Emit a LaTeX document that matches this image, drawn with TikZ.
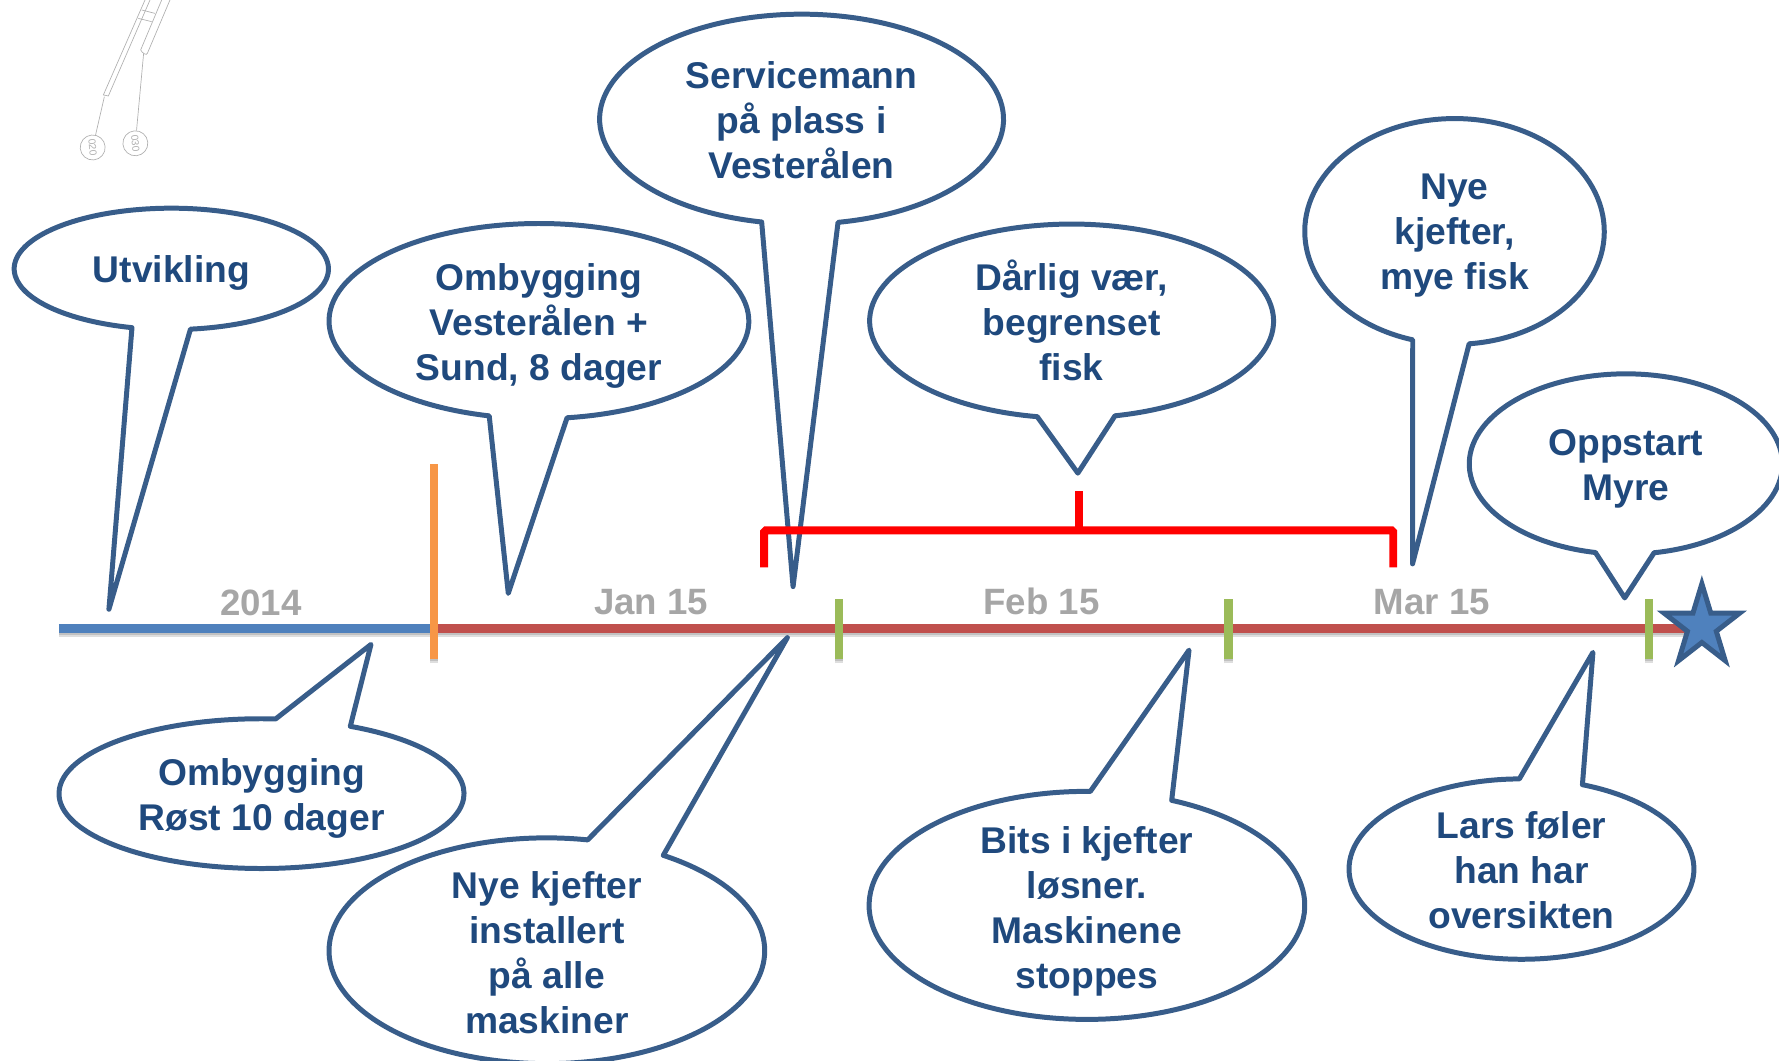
\documentclass[tikz,border=0pt]{standalone}
\usepackage{fontspec}
\setmainfont{Liberation Sans}
\usepackage{tikz}
\usetikzlibrary{calc}
\usetikzlibrary{shapes.geometric}
\definecolor{bubbleline}{HTML}{385D8A}
\definecolor{bubbletext}{HTML}{1F497D}
\definecolor{lineblue}{HTML}{4F81BD}
\definecolor{linered}{HTML}{C0504D}
\definecolor{lineorange}{HTML}{F79646}
\definecolor{linegreen}{HTML}{9BBB59}
\definecolor{sketchgray}{HTML}{B0B0B0}
\tikzset{
	bubblelabel/.style={inner sep=0pt,align=center,text=bubbletext,font=\fontsize{32.8}{39.7}\selectfont\bfseries},
	bubbleoutline/.style={draw=bubbleline,line width=4.4pt,line join=round},
	datelabel/.style={inner sep=0pt,text=black!35,font=\fontsize{32.3}{38}\selectfont\bfseries},
	barline/.style={line width=7.5pt},
	softshadow/.style={draw=black,line width=7.5pt,opacity=.13},
	sketchline/.style={draw=sketchgray,line width=.6pt},
	sketchmark/.style={circle,draw=sketchgray,line width=.6pt,inner sep=0pt,minimum size=22pt,text=sketchgray,font=\fontsize{9}{9}\selectfont}
}
% #1 centre, #2 #3 radii, #4 #5 arc angles, #6 tip
\newcommand{\speechbubble}[6]{\draw[bubbleoutline] ($(#1)+(#4:#2 and #3)$) arc[start angle=#4,end angle=#5,x radius=#2,y radius=#3] -- (#6) -- cycle;}
% #1 #2 ends of a bar
\newcommand{\barshadow}[2]{\draw[softshadow] ($(#1)+(0,-2)$) -- ($(#2)+(0,-2)$);\draw[softshadow] ($(#1)+(0,-3.5)$) -- ($(#2)+(0,-3.5)$);}
\begin{document}
\begin{tikzpicture}[x=1pt,y=1pt]
	\useasboundingbox (0,0) rectangle (1568,935);
	\clip (0,0) rectangle (1568,935);
	% drawing fragment, top left
	\node[sketchmark,rotate=-85] (mark020) at (81.7,805) {020};
	\node[sketchmark,rotate=-85] (mark030) at (119.3,808.7) {030};
	\coordinate (tip020) at (92,849.8);
	\coordinate (tip030) at (126.6,888);
	\draw[sketchline] (mark020) -- (tip020);
	\draw[sketchline] (mark030) -- (tip030);
	\draw[sketchline] (127.8,935) -- (91.1,851.3) -- (95.5,850.4) -- (132.2,935);
	\draw[sketchline] (142.5,935) -- (124,891) to[out=-70,in=-100] (129.9,888) -- (149.8,935);
	\draw[sketchline] (124.9,926.2) -- (136.6,923.2);
	\draw[sketchline] (121.9,918.8) -- (133.7,915.9);
	
	% time line
	\coordinate (LineStart) at (52,381);
	\coordinate (LineSplit) at (382,381);
	\coordinate (LineEnd)   at (1490,381);
	\coordinate (OrangeLow) at (382.5,354);
	\coordinate (OrangeTop) at (382.5,526);
	\coordinate (GreenLowA) at (739.5,354);
	\coordinate (GreenTopA) at (739.5,407);
	\coordinate (GreenLowB) at (1083,354);
	\coordinate (GreenTopB) at (1083,407);
	\coordinate (GreenLowC) at (1453.5,354);
	\coordinate (GreenTopC) at (1453.5,407);
	\barshadow{LineStart}{LineEnd}
	\draw[barline,draw=lineblue] (LineStart) -- (LineSplit);
	\draw[barline,draw=linered] (LineSplit) -- (LineEnd);
	\barshadow{OrangeLow}{OrangeTop}
	\barshadow{GreenLowA}{GreenTopA}
	\barshadow{GreenLowB}{GreenTopB}
	\barshadow{GreenLowC}{GreenTopC}
	\draw[barline,draw=lineorange] (OrangeLow) -- (OrangeTop);
	\draw[barline,draw=linegreen] (GreenLowA) -- (GreenTopA);
	\draw[barline,draw=linegreen] (GreenLowB) -- (GreenTopB);
	\draw[barline,draw=linegreen] (GreenLowC) -- (GreenTopC);
	\node[star,star points=5,star point ratio=2.618,minimum size=70pt,inner sep=0pt,yscale=1.07,fill=lineblue,draw=bubbleline,line width=4.4pt] (goal) at (1500,383) {};
	
	\node[datelabel] (year) at (230,404) {2014};
	\node[datelabel] (jan) at (574,404) {Jan 15};
	\node[datelabel] (feb) at (918,405) {Feb 15};
	\node[datelabel] (mar) at (1262,404) {Mar 15};
	
	% bubbles above
	\node[bubblelabel] (utvikling) at (151,694) {Utvikling};
	\node[bubblelabel] (vesteraalen) at (475,647.5) {Ombygging\\Vesterålen +\\Sund, 8 dager};
	\node[bubblelabel] (serviceman) at (706.5,829) {Servicemann\\på plass i\\Vesterålen};
	\node[bubblelabel] (vaer) at (944.5,652.5) {Dårlig vær,\\begrenset\\fisk};
	\node[bubblelabel] (nyefisk) at (1282,727) {Nye\\kjefter,\\mye fisk};
	\node[bubblelabel] (myre) at (1433,521.5) {Oppstart\\Myre};
	\coordinate (midUtvikling) at (151,698);
	\coordinate (midVesteraalen) at (475,652);
	\coordinate (midServiceman) at (706.5,830);
	\coordinate (midVaer) at (944.5,652);
	\coordinate (midNyefisk) at (1282,731);
	\coordinate (midMyre) at (1433,526);
	\coordinate (tipUtvikling) at (96,398);
	\coordinate (tipVesteraalen) at (448,412);
	\coordinate (tipServiceman) at (699,418);
	\coordinate (tipVaer) at (950,518);
	\coordinate (tipNyefisk) at (1245,438);
	\coordinate (tipMyre) at (1432,408);
	\speechbubble{midUtvikling}{138.5}{53.5}{-83}{255.5}{tipUtvikling}
	\speechbubble{midVesteraalen}{185}{86}{-82.3}{256.3}{tipVesteraalen}
	\speechbubble{midServiceman}{178}{92.5}{-79.6}{258.6}{tipServiceman}
	\speechbubble{midVaer}{178}{85.5}{-77.6}{260.2}{tipVaer}
	\speechbubble{midNyefisk}{132}{99.5}{-84.4}{253.8}{tipNyefisk}
	\speechbubble{midMyre}{138}{79.5}{-79.6}{258.8}{tipMyre}
	
	% bubbles below
	\node[bubblelabel] (roest) at (230.5,231.5) {Ombygging\\Røst 10 dager};
	\node[bubblelabel] (installert) at (482,95) {Nye kjefter\\installert\\på alle\\maskiner};
	\node[bubblelabel] (bits) at (958,132) {Bits i kjefter\\løsner.\\Maskinene\\stoppes};
	\node[bubblelabel] (lars) at (1341,168) {Lars føler\\han har\\oversikten};
	\coordinate (midRoest) at (230.5,235.5);
	\coordinate (midInstallert) at (482,97);
	\coordinate (midBits) at (958,137);
	\coordinate (midLars) at (1341,169);
	\coordinate (tipRoest) at (327,367);
	\coordinate (tipInstallert) at (694,373);
	\coordinate (tipBits) at (1048,362);
	\coordinate (tipLars) at (1404,360);
	\speechbubble{midRoest}{178.5}{66}{86}{424}{tipRoest}
	\speechbubble{midInstallert}{192}{99.5}{79.2}{417.7}{tipInstallert}
	\speechbubble{midBits}{192}{100.5}{89.1}{427.1}{tipBits}
	\speechbubble{midLars}{152}{79.5}{90.7}{429.3}{tipLars}
	
	% bracket over the bad weather period
	\coordinate (BracketLeft) at (673.5,435);
	\coordinate (BracketRight) at (1228,435);
	\coordinate (BracketMid) at (951,467.5);
	\coordinate (BracketTop) at (951,502);
	\draw[red,line width=7pt,rounded corners=1.5pt] (BracketLeft) |- (BracketMid) -| (BracketRight);
	\draw[red,line width=7pt] (BracketMid) -- (BracketTop);
\end{tikzpicture}
\end{document}
